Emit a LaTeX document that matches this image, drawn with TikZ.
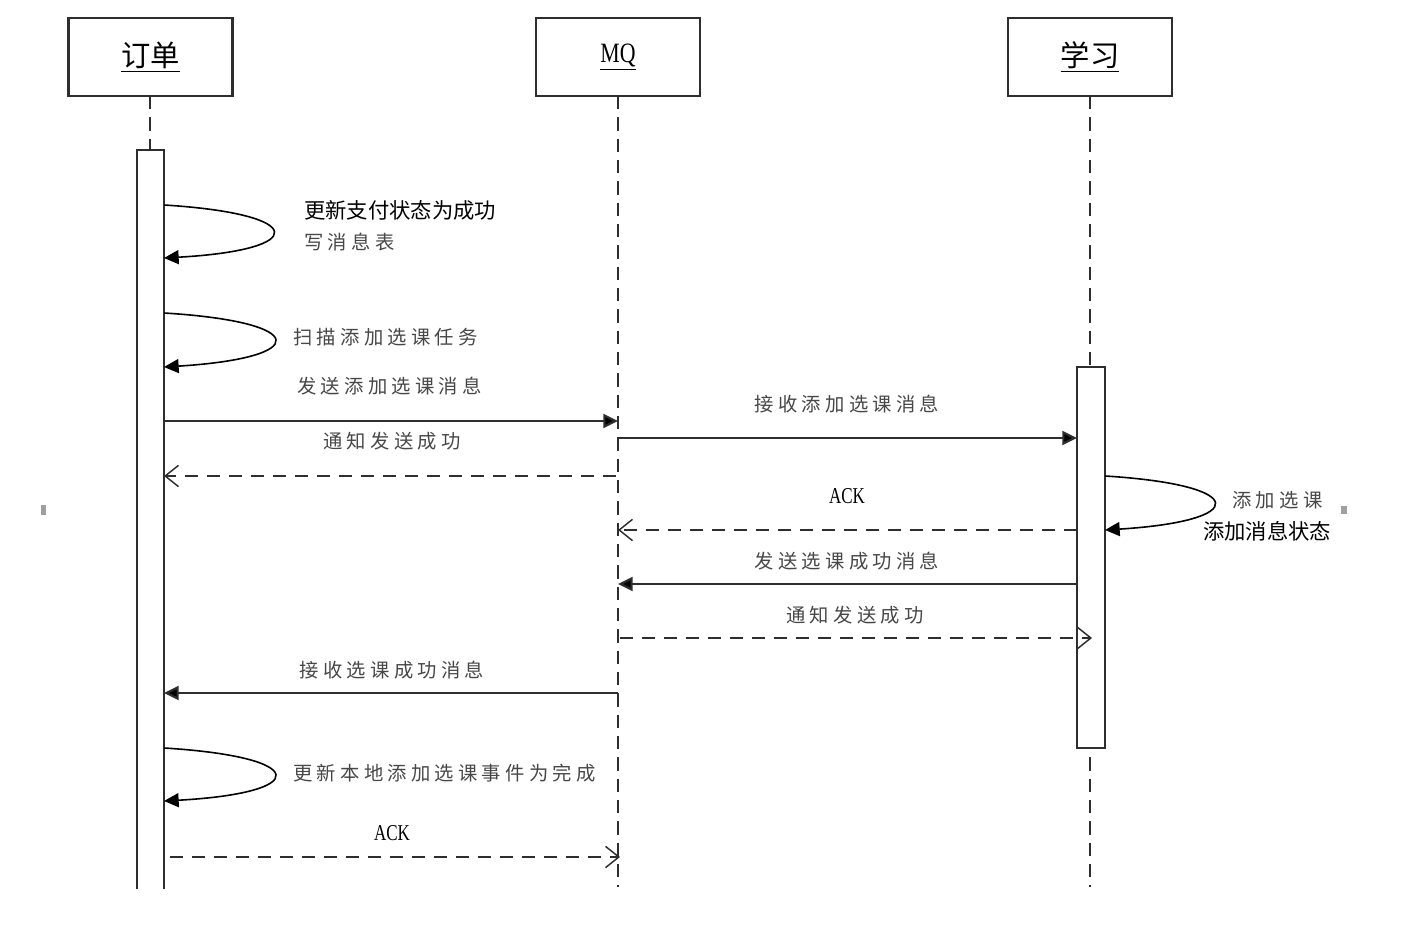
\documentclass[tikz,border=0pt]{standalone}
\usepackage{graphicx}
\usepackage{fontspec}
\setmainfont{Liberation Serif}
\newfontfamily\cjk{Noto Sans CJK SC}
\newfontfamily\cjksp[LetterSpace=22]{Noto Sans CJK SC}
\usetikzlibrary{arrows.meta}
\definecolor{ln}{HTML}{2E2E2E}
\definecolor{txg}{HTML}{474747}
\tikzset{
  obj/.style={draw=ln,line width=1.7pt,minimum width=123pt,minimum height=58.5pt,inner sep=0pt,fill=white},
  life/.style={draw=ln,line width=1.6pt,dash pattern=on 10pt off 6pt},
  bar/.style={draw=ln,line width=1.6pt,fill=white},
  msg/.style={draw=ln,line width=1.6pt,-{Triangle[length=11pt,width=10.5pt,fill=black]}},
  ret/.style={draw=ln,line width=1.6pt,dash pattern=on 10pt off 6.5pt,-{Straight Barb[length=10pt,width=16pt,line width=1.1pt]}},
  selfloop/.style={draw=black,line width=1.2pt,-{Triangle[length=11pt,width=10.5pt]}},
  glab/.style={font=\cjksp\fontsize{14.5}{16}\selectfont,text=txg,inner sep=0pt},
  blab/.style={font=\cjk\fontsize{16}{18}\selectfont,text=black,inner sep=0pt},
  ack/.style={font=\fontsize{17}{18}\selectfont,text=black,inner sep=0pt},
  handle/.style={fill=gray!75,draw=none}
}
\begin{document}
\begin{tikzpicture}[x=0.75pt,y=-0.75pt]
\useasboundingbox (0,0) rectangle (1403,937);
% lifelines
\draw[life] (150,96) -- (150,150);
\draw[life] (618,96) -- (618,887);
\draw[life] (1090,96) -- (1090,887);
% objects
\node[obj] (ord) at (150.5,57) {\cjk\fontsize{22}{24}\selectfont\underline{订单}};
\node[obj] (mq) at (618,57) {\fontsize{21}{22}\selectfont\underline{\scalebox{0.78}[1]{MQ}}};
\node[obj] (stu) at (1090,57) {\cjk\fontsize{22}{24}\selectfont\underline{学习}};
% activation bars
\path[bar] (137,889) -- (137,150) -- (164,150) -- (164,889);
\node[bar,minimum width=21pt,minimum height=285.75pt,inner sep=0pt] (sbar) at (1091,557.5) {};
% selection handles
\fill[handle] (41,505) rectangle (46,515);
\fill[handle] (1341,506) rectangle (1347,514);
% self loops on order
\coordinate (l1a) at (164,205); \coordinate (l1b) at (164,258);
\draw[selfloop] (l1a) .. controls (309,214) and (309,250) .. (l1b);
\coordinate (l2a) at (164,313); \coordinate (l2b) at (164,367);
\draw[selfloop] (l2a) .. controls (311,322) and (311,358) .. (l2b);
\coordinate (l3a) at (164,748); \coordinate (l3b) at (164,801);
\draw[selfloop] (l3a) .. controls (311,757) and (311,793) .. (l3b);
% self loop on study
\coordinate (l4a) at (1105,476); \coordinate (l4b) at (1105,530);
\draw[selfloop] (l4a) .. controls (1250,485) and (1250,521) .. (l4b);
% labels
\node[blab,anchor=west] (t1) at (304,210) {更新支付状态为成功};
\node[glab,anchor=west] (t2) at (304,242) {写消息表};
\node[glab,anchor=west] (t3) at (293,337) {扫描添加选课任务};
\node[glab,anchor=west] (t4) at (297,386) {发送添加选课消息};
\node[glab] (t5) at (847,404) {接收添加选课消息};
\node[glab] (t6) at (392,441) {通知发送成功};
\node[ack] (t7) at (847,496) {\scalebox{0.75}[1]{ACK}};
\node[glab,anchor=west] (t8) at (1232,500) {添加选课};
\node[blab,anchor=west] (t9) at (1203,531) {添加消息状态};
\node[glab] (t10) at (847,561) {发送选课成功消息};
\node[glab] (t11) at (855,615) {通知发送成功};
\node[glab] (t12) at (392,670) {接收选课成功消息};
\node[glab,anchor=west] (t13) at (293,773) {更新本地添加选课事件为完成};
\node[ack] (t14) at (392,833) {\scalebox{0.75}[1]{ACK}};
% messages
\coordinate (m1a) at (164,421); \coordinate (m1b) at (618,421);
\draw[msg] (m1a) -- (m1b);
\coordinate (m2a) at (618,438); \coordinate (m2b) at (1077,438);
\draw[msg] (m2a) -- (m2b);
\coordinate (m3a) at (616,476); \coordinate (m3b) at (164,476);
\draw[ret] (m3a) -- (m3b);
\coordinate (m4a) at (1077,530); \coordinate (m4b) at (618,530);
\draw[ret] (m4a) -- (m4b);
\coordinate (m5a) at (1077,584); \coordinate (m5b) at (618,584);
\draw[msg] (m5a) -- (m5b);
\coordinate (m6a) at (620,638); \coordinate (m6b) at (1092,638);
\draw[ret] (m6a) -- (m6b);
\coordinate (m7a) at (618,693); \coordinate (m7b) at (164,693);
\draw[msg] (m7a) -- (m7b);
\coordinate (m8a) at (170,857); \coordinate (m8b) at (620,857);
\draw[ret] (m8a) -- (m8b);
\end{tikzpicture}
\end{document}
